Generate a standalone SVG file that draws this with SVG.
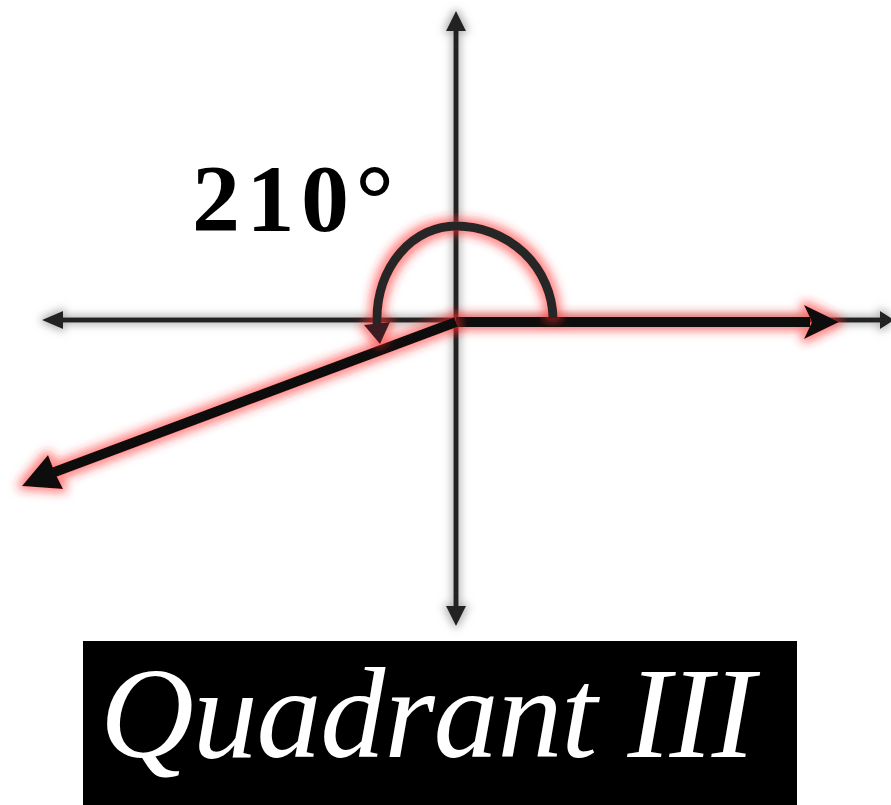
<svg xmlns="http://www.w3.org/2000/svg" width="891" height="805" viewBox="0 0 891 805">
  <defs>
    <filter id="shadow" filterUnits="userSpaceOnUse" x="0" y="0" width="891" height="805">
      <feMorphology in="SourceAlpha" operator="dilate" radius="2" result="d"/>
      <feGaussianBlur in="d" stdDeviation="4" result="b"/>
      <feFlood flood-color="#808080" flood-opacity="0.6"/>
      <feComposite in2="b" operator="in" result="g"/>
      <feMerge><feMergeNode in="g"/><feMergeNode in="SourceGraphic"/></feMerge>
    </filter>
    <filter id="glow" filterUnits="userSpaceOnUse" x="0" y="0" width="891" height="805">
      <feMorphology in="SourceAlpha" operator="dilate" radius="4" result="d"/>
      <feGaussianBlur in="d" stdDeviation="5" result="b"/>
      <feFlood flood-color="#ff2a2a" flood-opacity="0.55"/>
      <feComposite in2="b" operator="in" result="g"/>
      <feMerge><feMergeNode in="g"/><feMergeNode in="SourceGraphic"/></feMerge>
    </filter>
    <style>
      .axis { stroke: #222; stroke-width: 5; fill: none; }
      .axhead { fill: #222; }
      .ray { stroke: #0c0c0c; stroke-width: 10; fill: none; }
      .rayhead { fill: #0c0c0c; }
      .arc { stroke: #262626; stroke-width: 9; fill: none; }
      .angle { font-family: "Liberation Serif", "DejaVu Serif", serif; font-weight: bold; font-size: 96px; fill: #000; }
      .caption { font-family: "Liberation Serif", "DejaVu Serif", serif; font-style: italic; font-size: 130px; fill: #fff; }
    </style>
  </defs>

  <rect width="891" height="805" fill="#fff"/>

  <g id="axes" filter="url(#shadow)">
    <line class="axis" x1="456" y1="26" x2="456" y2="611"/>
    <polygon class="axhead" points="456,11 446,31 466,31"/>
    <polygon class="axhead" points="456,626 446,606 466,606"/>
    <line class="axis" x1="58" y1="320" x2="885" y2="320"/>
    <polygon class="axhead" points="42,320 63,311 63,329"/>
    <polygon class="axhead" points="894,320 880,311 880,329"/>
  </g>

  <g id="connectors">
    <g id="initial-side" filter="url(#glow)">
      <line class="ray" x1="456" y1="322" x2="810" y2="322"/>
      <polygon class="rayhead" points="839,322 804,305 812,322 804,339"/>
    </g>
    <g id="terminal-side" filter="url(#glow)">
      <line class="ray" x1="456" y1="322" x2="52" y2="473"/>
      <polygon class="rayhead" points="22,486 48,455 55,473 63,489"/>
    </g>
    <g id="angle-arc" filter="url(#glow)">
      <path class="arc" d="M 553,318 A 97 94 0 0 0 456,226 A 79 92 0 0 0 377,318 L 377,325"/>
      <polygon points="364,325 390,322 380,344" fill="#3a1e22"/>
    </g>
  </g>

  <g id="label-angle">
    <text class="angle" x="192" y="231" textLength="202" lengthAdjust="spacing">210°</text>
  </g>

  <g id="caption">
    <rect x="83" y="641" width="714" height="164" fill="#000"/>
    <text class="caption" x="100" y="757" textLength="655" lengthAdjust="spacing">Quadrant III</text>
  </g>
</svg>
